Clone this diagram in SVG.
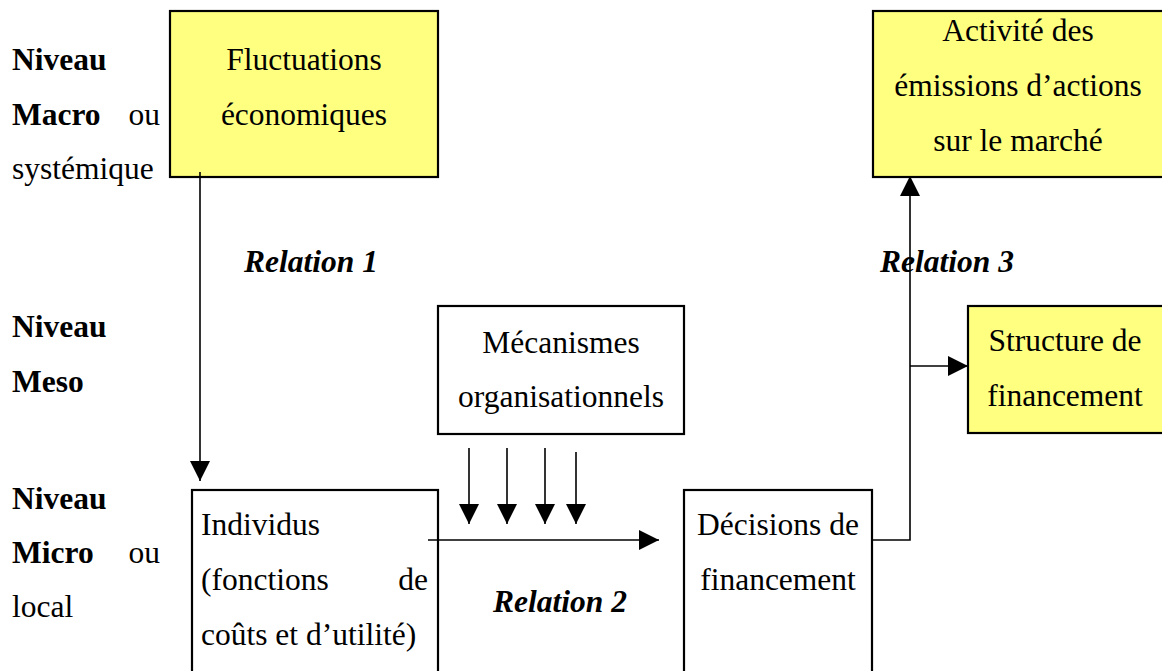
<svg xmlns="http://www.w3.org/2000/svg" width="1162" height="671" viewBox="0 0 1162 671">
<style>
text{font-family:"Liberation Serif","Times New Roman",serif;font-size:31.5px;fill:#000}
.b{font-weight:bold}
.bi{font-weight:bold;font-style:italic}
.c{text-anchor:middle}
.box{stroke:#000;stroke-width:2.2}
.y{fill:#ffff80}
.w{fill:#fff}
.ln{stroke:#000;stroke-width:1.6;fill:none}
</style>
<defs>
<marker id="ah" markerUnits="userSpaceOnUse" markerWidth="20" markerHeight="20" refX="20" refY="10" orient="auto">
<path d="M0,0 L20,10 L0,20 Z" fill="#000"/>
</marker>
</defs>
<rect width="1162" height="671" fill="#fff"/>

<g id="labels">
<text x="12" y="70" class="b">Niveau</text>
<text x="12" y="124.5" class="b">Macro</text>
<text x="160" y="124.5" text-anchor="end">ou</text>
<text x="12" y="179">systémique</text>
<text x="12" y="337" class="b">Niveau</text>
<text x="12" y="392" class="b">Meso</text>
<text x="12" y="509" class="b">Niveau</text>
<text x="12" y="563" class="b">Micro</text>
<text x="160" y="563" text-anchor="end">ou</text>
<text x="12" y="617">local</text>
<text x="244" y="272" class="bi">Relation 1</text>
<text x="493" y="612" class="bi">Relation 2</text>
<text x="880" y="272" class="bi">Relation 3</text>
</g>

<g id="fluctuations">
<rect x="170" y="11" width="268" height="166" class="box y"/>
<text x="304" y="70" class="c">Fluctuations</text>
<text x="304" y="124.5" class="c">économiques</text>
</g>

<g id="activite">
<rect x="873" y="11" width="300" height="166" class="box y"/>
<text x="1018" y="41" class="c">Activité des</text>
<text x="1018" y="96" class="c">émissions d’actions</text>
<text x="1018" y="151" class="c">sur le marché</text>
</g>

<g id="mecanismes">
<rect x="438" y="306" width="246" height="128" class="box w"/>
<text x="561" y="353" class="c">Mécanismes</text>
<text x="561" y="407" class="c">organisationnels</text>
</g>

<g id="structure">
<rect x="968" y="306" width="205" height="127" class="box y"/>
<text x="1065" y="351" class="c">Structure de</text>
<text x="1065" y="405.5" class="c">financement</text>
</g>

<g id="individus">
<rect x="192" y="490" width="246" height="200" class="box w"/>
<text x="201" y="535">Individus</text>
<text x="201" y="590">(fonctions</text>
<text x="428" y="590" text-anchor="end">de</text>
<text x="201" y="645">coûts et d’utilité)</text>
</g>

<g id="decisions">
<rect x="684" y="490" width="188" height="200" class="box w"/>
<text x="778" y="535" class="c">Décisions de</text>
<text x="778" y="590" class="c">financement</text>
</g>

<g id="connectors">
<line x1="200" y1="172" x2="200" y2="481" class="ln" marker-end="url(#ah)"/>
<line x1="469" y1="448" x2="469" y2="524" class="ln" marker-end="url(#ah)"/>
<line x1="507" y1="448" x2="507" y2="524" class="ln" marker-end="url(#ah)"/>
<line x1="545" y1="448" x2="545" y2="524" class="ln" marker-end="url(#ah)"/>
<line x1="576" y1="452" x2="576" y2="524" class="ln" marker-end="url(#ah)"/>
<line x1="428" y1="540" x2="659" y2="540" class="ln" marker-end="url(#ah)"/>
<polyline points="871,540 910,540 910,176" class="ln" marker-end="url(#ah)"/>
<line x1="910" y1="366" x2="968" y2="366" class="ln" marker-end="url(#ah)"/>
</g>
</svg>
